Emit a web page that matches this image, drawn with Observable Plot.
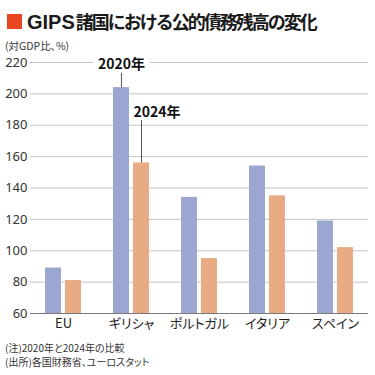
<!DOCTYPE html>
<html>
<head>
<meta charset="utf-8">
<script src="https://cdn.jsdelivr.net/npm/d3@7"></script>
<script src="https://cdn.jsdelivr.net/npm/@observablehq/plot@0.6"></script>
<style>
  html, body { margin: 0; padding: 0; background: #fff; }
  body { position: relative; width: 375px; height: 375px; overflow: hidden; font-family: "Noto Sans CJK JP", "Noto Sans", sans-serif; color: #222; }
  .title { position: absolute; left: 0; top: 0; width: 375px; height: 42px; display: flex; align-items: center; padding-left: 7px; box-sizing: border-box; }
  .title .sq { width: 15px; height: 15px; background: #e8461e; margin-right: 5px; flex: none; }
  .title .t { font-size: 18px; font-weight: bold; letter-spacing: -2px; white-space: nowrap; color: #1a1a1a; }
  .title .t .lat { font-family: "Liberation Sans", Arial, sans-serif; font-size: 20px; letter-spacing: 0; margin-right: 1px; }
  .sub { position: absolute; left: 5px; top: 40px; height: 11px; line-height: 11px; font-size: 10.5px; color: #333; white-space: nowrap; font-feature-settings: "palt" 1; }
  .notes { position: absolute; left: 5px; top: 341px; font-size: 10px; line-height: 14px; color: #333; white-space: nowrap; font-feature-settings: "palt" 1; }
  #chart { position: absolute; left: 0; top: 50px; width: 375px; height: 287px; }
  #chart svg { display: block; position: absolute; left: 0; top: 0; }
  #chart text { font-feature-settings: "palt" 1; }
</style>
</head>
<body>
<div class="title"><div class="sq"></div><div class="t"><span class="lat">GIPS</span>諸国における公的債務残高の変化</div></div>
<div class="sub">(対GDP比、%)</div>
<div id="chart"></div>
<div class="notes">(注)2020年と2024年の比較<br>(出所)各国財務省、ユーロスタット</div>
<script>
const categories = ["EU", "ギリシャ", "ポルトガル", "イタリア", "スペイン"];
const seriesNames = ["2020", "2024"];
const values2020 = [89, 204, 134, 154, 119];
const values2024 = [81, 156, 95, 135, 102];
const yTicks = [60, 80, 100, 120, 140, 160, 180, 200, 220];
const annotCats = ["ギリシャ", "ギリシャ"];
const annotSeries = ["2020", "2024"];
const annotLabels = ["2020年", "2024年"];
const annotLabelY = [219, 188];
const annotRuleTop = [213, 183];
const annotRuleBottom = [204, 156];

const data = categories.flatMap((c, i) => [
  {cat: c, series: seriesNames[0], value: values2020[i]},
  {cat: c, series: seriesNames[1], value: values2024[i]}
]);
const annots = annotLabels.map((l, i) => ({
  cat: annotCats[i], series: annotSeries[i], label: l,
  labelY: annotLabelY[i], top: annotRuleTop[i], bottom: annotRuleBottom[i]
}));

const font = '"Noto Sans CJK JP", "Noto Sans", sans-serif';
const numFont = '"Noto Sans", "Noto Sans CJK JP", sans-serif';
const dims = {width: 375, height: 287, marginLeft: 30, marginRight: 7, marginTop: 12, marginBottom: 24};
const yScale = {domain: [60, 220], axis: null};

// Background layer: grid lines and y tick labels
const grid = Plot.plot({
  ...dims,
  style: {fontFamily: numFont, color: "#222", background: "transparent"},
  y: yScale,
  marks: [
    Plot.ruleY(yTicks.filter(t => t > 60), {stroke: "#c4c4c4", strokeWidth: 1}),
    Plot.text(yTicks, {y: d => d, text: d => String(d), frameAnchor: "left", textAnchor: "end", dx: -3, fontSize: 13, fill: "#333"})
  ]
});

// Foreground layer: grouped bars, category axis, annotations
const bars = Plot.plot({
  ...dims,
  style: {fontFamily: font, color: "#222", background: "transparent"},
  fx: {domain: categories, paddingInner: 0.435, paddingOuter: 0.17, label: null},
  x: {domain: seriesNames, paddingInner: 0.18, paddingOuter: 0, axis: null},
  y: yScale,
  color: {domain: seriesNames, range: ["#9ba7d1", "#e9ab83"]},
  marks: [
    Plot.barY(data, {fx: "cat", x: "series", y1: 60, y2: "value", fill: "series"}),
    Plot.axisFx({anchor: "bottom", tickSize: 0, tickPadding: 5, label: null, fontSize: 13, fill: "#222"}),
    Plot.text(annots.filter(d => d.series === "2020"), {fx: "cat", x: "series", y: "labelY", text: "label", fontSize: 14, fontWeight: "bold", fill: "#111", stroke: "white", strokeWidth: 12, textAnchor: "middle"}),
    Plot.text(annots.filter(d => d.series === "2024"), {fx: "cat", x: "series", y: "labelY", text: "label", fontSize: 14, fontWeight: "bold", fill: "#111", textAnchor: "start", dx: -8}),
    Plot.ruleX(annots, {fx: "cat", x: "series", y1: "bottom", y2: "top", stroke: "#555", strokeWidth: 1})
  ]
});

// Top layer: axis baseline
const base = Plot.plot({
  ...dims,
  style: {background: "transparent"},
  y: yScale,
  marks: [Plot.ruleY([60], {stroke: "#7a7a7a", strokeWidth: 1})]
});

const el = document.getElementById("chart");
el.appendChild(grid);
el.appendChild(bars);
el.appendChild(base);
</script>
</body>
</html>
